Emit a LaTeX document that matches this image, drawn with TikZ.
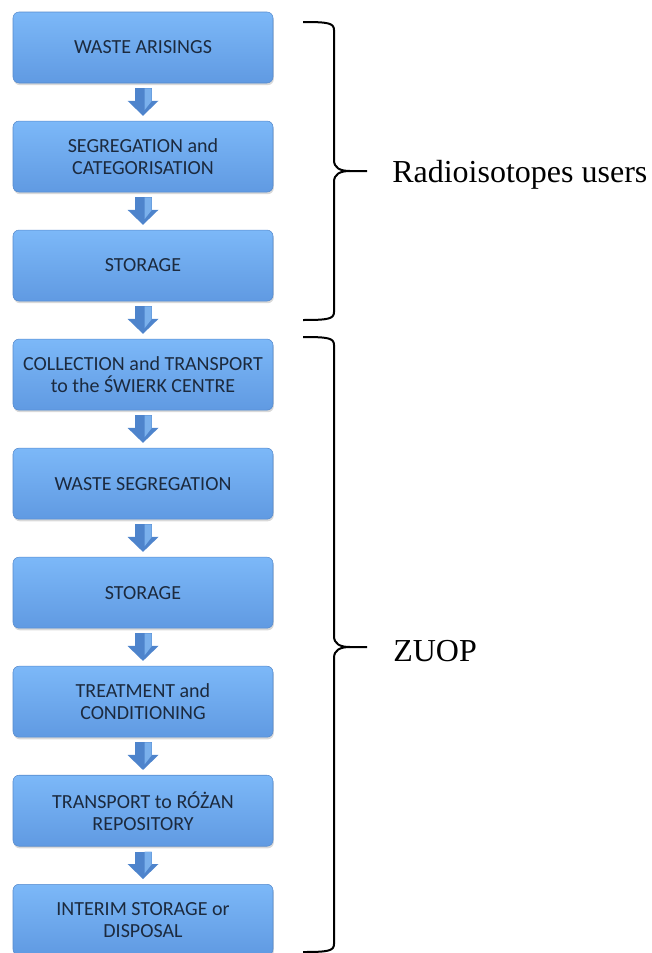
\documentclass[tikz,border=0pt]{standalone}
\usepackage{fontspec}
\setmainfont{Liberation Serif}
\newfontfamily\boxfont{Carlito}
\usetikzlibrary{positioning,arrows.meta,shadows,calc}

\definecolor{boxtop}{RGB}{124,184,248}
\definecolor{boxmid}{RGB}{110,172,242}
\definecolor{boxbottom}{RGB}{96,154,226}
\definecolor{boxedge}{RGB}{86,138,204}
\definecolor{boxtext}{RGB}{28,42,62}
\definecolor{arrowblue}{RGB}{78,132,204}
\definecolor{arrowlight}{RGB}{122,176,236}

\tikzset{
	stepbox/.style={rounded corners=4.5pt, draw=boxedge, line width=0.4pt,
		top color=boxtop, middle color=boxmid, bottom color=boxbottom,
		drop shadow={opacity=0.3, shadow xshift=0.6pt, shadow yshift=-1.6pt},
		minimum width=195pt, minimum height=53.25pt, inner sep=2pt,
		align=center, text=boxtext, font=\boxfont\fontsize{15}{16.5}\selectfont},
	flowarrow/.style={line width=12.75pt, draw=arrowblue,
		-{Triangle[width=23.25pt, length=11.25pt, line width=0pt]},
		shorten <=3.75pt, shorten >=3.75pt},
	arrowshine/.style={fill=arrowlight},
	bracepen/.style={line width=1.5pt, line join=round},
	grouplabel/.style={anchor=base west, inner sep=0pt, font=\fontsize{24}{28}\selectfont}
}

\begin{document}
\begin{tikzpicture}[x=0.75pt, y=-0.75pt, node distance=28.125pt]
	\useasboundingbox (0,0) rectangle (652,953);
	
	% Flow of steps
	\node[stepbox] (arising) at (143,47.5) {WASTE ARISINGS};
	\node[stepbox, below=of arising] (segreg) {SEGREGATION and\\CATEGORISATION};
	\node[stepbox, below=of segreg] (userstore) {STORAGE};
	\node[stepbox, below=of userstore] (collect) {COLLECTION and TRANSPORT\\to the ŚWIERK CENTRE};
	\node[stepbox, below=of collect] (wastesegreg) {WASTE SEGREGATION};
	\node[stepbox, below=of wastesegreg] (zuopstore) {STORAGE};
	\node[stepbox, below=of zuopstore] (treat) {TREATMENT and\\CONDITIONING};
	\node[stepbox, below=of treat] (transport) {TRANSPORT to RÓŻAN\\REPOSITORY};
	\node[stepbox, below=of transport] (interim) {INTERIM STORAGE or\\DISPOSAL};
	
	% Block arrows between steps (with a light right face)
	\foreach \a/\b in {arising/segreg, segreg/userstore, userstore/collect,
		collect/wastesegreg, wastesegreg/zuopstore, zuopstore/treat,
		treat/transport, transport/interim}
	{
		\draw[flowarrow] (\a) -- (\b);
		\fill[arrowshine] ($(\a.south)+(1.5,5)$) -- ($(\a.south)+(8.5,5)$)
			-- ($(\a.south)+(8.5,18)$) -- ($(\a.south)+(1.5,27)$) -- cycle;
	}
	
	% Brace for radioisotopes users
	\coordinate (usertip) at (367,171);
	\draw[bracepen] (303,22) .. controls (328,22) and (334,23) .. (334,30) -- (334,160)
		.. controls (334,168) and (340,171) .. (350,171) -- (usertip);
	\draw[bracepen] (303,320) .. controls (328,320) and (334,319) .. (334,312) -- (334,182)
		.. controls (334,174) and (340,171) .. (350,171);
	\node[grouplabel] (users) at (392,182) {Radioisotopes users};
	
	% Brace for ZUOP
	\coordinate (zuoptip) at (367,647);
	\draw[bracepen] (303,337) .. controls (328,337) and (334,338) .. (334,345) -- (334,636)
		.. controls (334,644) and (340,647) .. (350,647) -- (zuoptip);
	\draw[bracepen] (303,952) .. controls (328,952) and (334,951) .. (334,944) -- (334,658)
		.. controls (334,650) and (340,647) .. (350,647);
	\node[grouplabel] (zuop) at (393,661) {ZUOP};
\end{tikzpicture}
\end{document}
